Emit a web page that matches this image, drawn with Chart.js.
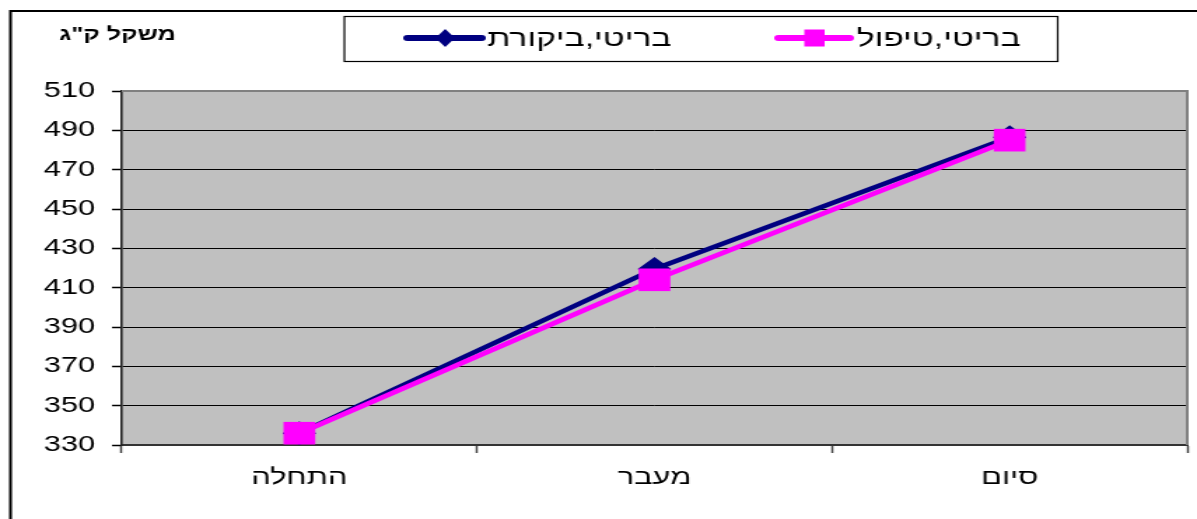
<!DOCTYPE html>
<html lang="he">
<head>
<meta charset="utf-8">
<title>משקל ק"ג</title>
<script src="https://cdn.jsdelivr.net/npm/chart.js@4/dist/chart.umd.min.js"></script>
<style>
  html, body { margin: 0; padding: 0; background: #fff; overflow: hidden; }
  #wrap { width: 1197px; height: 519px; overflow: hidden; }
  /* the chart is laid out narrow and widened, so text and markers come out broad */
  #c { transform: scaleX(1.4); transform-origin: 0 0; display: block; }
</style>
</head>
<body>
<div id="wrap"><canvas id="c" width="855" height="519"></canvas></div>
<script>
// Categories (x axis)
const categories = ['התחלה', 'מעבר', 'סיום'];
// Weight in kg, control group
const controlValues = [336, 419.5, 486.5];
// Weight in kg, treatment group
const treatmentValues = [336, 414, 485];
// Value axis ticks
const yTickValues = [330, 350, 370, 390, 410, 430, 450, 470, 490, 510];

const seriesNames = ['בריטי,ביקורת', 'בריטי,טיפול'];
const axisTitle = 'משקל ק"ג';

const NAVY = '#000080';
const MAGENTA = '#FF00FF';
const PLOT_BG = '#C0C0C0';
const FONT = '"Liberation Sans", Arial, "DejaVu Sans", sans-serif';

const chartDecor = {
  id: 'chartDecor',
  beforeDraw(chart) {
    const ctx = chart.ctx;
    const a = chart.chartArea;
    ctx.save();
    ctx.fillStyle = '#fff';
    ctx.fillRect(0, 0, chart.width, chart.height);
    // outer frame (runs off the right and bottom edges)
    ctx.strokeStyle = '#000';
    ctx.lineWidth = 2;
    ctx.strokeRect(7.5, 11, chart.width + 20, chart.height + 20);
    // plot area fill
    ctx.fillStyle = PLOT_BG;
    ctx.fillRect(a.left, a.top, a.right - a.left, a.bottom - a.top);
    ctx.restore();
  },
  beforeDatasetsDraw(chart) {
    const ctx = chart.ctx;
    const a = chart.chartArea;
    ctx.save();
    ctx.strokeStyle = '#808080';
    ctx.lineWidth = 2;
    ctx.beginPath();
    ctx.moveTo(a.left, a.top);
    ctx.lineTo(a.right, a.top);
    ctx.lineTo(a.right, a.bottom);
    ctx.stroke();
    ctx.restore();
  },
  afterDraw(chart) {
    const ctx = chart.ctx;
    ctx.save();
    // axis title
    ctx.fillStyle = '#000';
    ctx.font = 'bold 18px "Liberation Sans", "DejaVu Sans", sans-serif';
    ctx.textAlign = 'center';
    ctx.textBaseline = 'middle';
    ctx.fillText(axisTitle, 84, 35);

    // legend box
    ctx.fillStyle = '#fff';
    ctx.fillRect(246, 16.5, 509.5, 45);
    ctx.strokeStyle = '#000';
    ctx.lineWidth = 1.2;
    ctx.strokeRect(246, 16.5, 509.5, 45);

    const ly = 38;
    const ds = chart.data.datasets;
    // control sample: line + diamond
    const c = ds.find(d => d.label === seriesNames[0]);
    ctx.strokeStyle = c.borderColor;
    ctx.lineWidth = 6;
    ctx.lineCap = 'round';
    ctx.beginPath();
    ctx.moveTo(291, ly);
    ctx.lineTo(344, ly);
    ctx.stroke();
    ctx.fillStyle = c.pointBackgroundColor;
    ctx.beginPath();
    ctx.moveTo(318, ly - 9);
    ctx.lineTo(325, ly);
    ctx.lineTo(318, ly + 9);
    ctx.lineTo(311, ly);
    ctx.closePath();
    ctx.fill();

    // treatment sample: line + square
    const t = ds.find(d => d.label === seriesNames[1]);
    ctx.strokeStyle = t.borderColor;
    ctx.beginPath();
    ctx.moveTo(556, ly);
    ctx.lineTo(607, ly);
    ctx.stroke();
    ctx.fillStyle = t.pointBackgroundColor;
    ctx.fillRect(574.5, ly - 8.5, 14.5, 17);

    ctx.fillStyle = '#000';
    ctx.font = '24px ' + FONT;
    ctx.textAlign = 'left';
    ctx.textBaseline = 'middle';
    ctx.fillText(seriesNames[0], 348, ly + 1);
    ctx.fillText(seriesNames[1], 612, ly + 1);
    ctx.restore();
  }
};

new Chart(document.getElementById('c'), {
  type: 'line',
  data: {
    labels: categories,
    datasets: [
      {
        label: seriesNames[0],
        data: controlValues,
        borderColor: NAVY,
        backgroundColor: NAVY,
        pointBackgroundColor: NAVY,
        pointBorderColor: NAVY,
        borderWidth: 4.5,
        pointStyle: 'rectRot',
        pointRadius: 12,
        pointBorderWidth: 0,
        tension: 0,
        clip: false,
        order: 2
      },
      {
        label: seriesNames[1],
        data: treatmentValues,
        borderColor: MAGENTA,
        backgroundColor: MAGENTA,
        pointBackgroundColor: MAGENTA,
        pointBorderColor: MAGENTA,
        borderWidth: 4.5,
        pointStyle: 'rect',
        pointRadius: 16,
        pointBorderWidth: 0,
        tension: 0,
        clip: false,
        order: 1
      }
    ]
  },
  options: {
    responsive: false,
    animation: false,
    devicePixelRatio: 1,
    layout: { autoPadding: false, padding: { top: 91, right: 7, bottom: 0, left: 0 } },
    plugins: { legend: { display: false }, tooltip: { enabled: false }, title: { display: false } },
    scales: {
      x: {
        type: 'category',
        offset: true,
        afterFit(scale) { scale.height = 74; },
        grid: {
          offset: true,
          drawOnChartArea: false,
          drawTicks: true,
          tickLength: 8,
          tickColor: '#444',
          tickWidth: 1.5
        },
        border: { display: true, color: '#333', width: 2 },
        ticks: {
          color: '#000',
          font: { family: FONT, size: 22 },
          padding: 12,
          maxRotation: 0
        }
      },
      y: {
        min: 330,
        max: 510,
        afterFit(scale) { scale.width = 87; },
        afterBuildTicks(scale) { scale.ticks = yTickValues.map(v => ({ value: v })); },
        grid: {
          color: ctx => (ctx.tick && ctx.tick.value === 510 ? 'rgba(0,0,0,0)' : '#000'),
          lineWidth: 1,
          drawTicks: true,
          tickLength: 7,
          tickColor: '#000',
          tickWidth: 1.5
        },
        border: { display: true, color: '#222', width: 1.6 },
        ticks: {
          color: '#000',
          font: { family: FONT, size: 22 },
          padding: 12
        }
      }
    }
  },
  plugins: [chartDecor]
});
</script>
</body>
</html>
